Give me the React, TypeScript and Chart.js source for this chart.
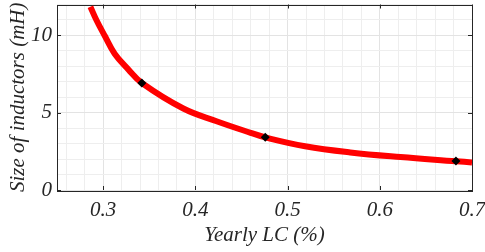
import React, { useEffect, useRef } from "react";
import { Chart, registerables } from "chart.js";

Chart.register(...registerables);

// Curve (Yearly LC %, inductor size mH)
const curveX = [0.2862, 0.2927, 0.3019, 0.3125, 0.327, 0.342, 0.387, 0.423, 0.46, 0.476, 0.519, 0.568, 0.6225, 0.683, 0.7];
const curveY = [11.86, 11.0, 9.96, 8.82, 7.82, 6.92, 5.27, 4.45, 3.7, 3.4, 2.83, 2.43, 2.13, 1.86, 1.78];

// Highlighted design points
const markX = [0.342, 0.4758, 0.6826];
const markY = [6.92, 3.42, 1.87];

const xTickLabels = ["0.3", "0.4", "0.5", "0.6", "0.7"];
const yTickLabels = ["0", "5", "10"];
const xMin = 0.25, xMax = 0.7, xMinorStep = 0.02;
const yMin = 0, yMax = 12, yMinorStep = 1;

const xTitle = "Yearly LC (%)";
const yTitle = "Size of inductors (mH)";

const TXT = "#262626";
const FONT = "'Liberation Serif', 'Times New Roman', serif";
const FS = 21;

const isMajor = (v: number, labels: string[]) => labels.some((l) => Math.abs(parseFloat(l) - v) < 1e-6);

const framePlugin = {
  id: "frame",
  beforeDatasetsDraw(chart: any) {
    const { ctx, chartArea: a, scales } = chart;
    ctx.save();
    ctx.strokeStyle = TXT;
    ctx.lineWidth = 1;
    ctx.strokeRect(Math.round(a.left) + 0.5, Math.round(a.top) + 0.5, Math.round(a.right - a.left), Math.round(a.bottom - a.top));
    const L = 4;
    ctx.beginPath();
    xTickLabels.forEach((l) => {
      const px = Math.round(scales.x.getPixelForValue(parseFloat(l))) + 0.5;
      ctx.moveTo(px, a.bottom); ctx.lineTo(px, a.bottom - L);
      ctx.moveTo(px, a.top); ctx.lineTo(px, a.top + L);
    });
    yTickLabels.forEach((l) => {
      const py = Math.round(scales.y.getPixelForValue(parseFloat(l))) + 0.5;
      ctx.moveTo(a.left, py); ctx.lineTo(a.left + L, py);
      ctx.moveTo(a.right, py); ctx.lineTo(a.right - L, py);
    });
    ctx.stroke();
    ctx.restore();
  },
};

export default function App() {
  const ref = useRef<HTMLCanvasElement>(null);
  useEffect(() => {
    document.body.style.margin = "0";
    const chart = new Chart(ref.current!, {
      type: "scatter",
      data: {
        datasets: [
          {
            data: markX.map((x, i) => ({ x, y: markY[i] })),
            pointStyle: "rectRot",
            pointRadius: 4.5,
            backgroundColor: "#000",
            borderColor: "#000",
            borderWidth: 0,
            order: 0,
          },
          {
            data: curveX.map((x, i) => ({ x, y: curveY[i] })),
            showLine: true,
            borderColor: "#ff0000",
            borderWidth: 6,
            pointRadius: 0,
            tension: 0.4,
            order: 1,
          } as any,
        ],
      },
      options: {
        responsive: false,
        animation: false,
        devicePixelRatio: 1,
        layout: { padding: { top: 1, right: 13, left: 0, bottom: 0 } },
        plugins: { legend: { display: false }, tooltip: { enabled: false } },
        scales: {
          x: {
            type: "linear",
            min: xMin,
            max: xMax,
            afterBuildTicks: (s: any) => {
              const t = [];
              for (let v = xMin + 0.01; v <= xMax + 1e-9; v += xMinorStep) t.push({ value: Math.round(v * 100) / 100 });
              s.ticks = t;
            },
            afterFit: (s: any) => { s.height = 62; s.paddingLeft = 0; s.paddingRight = 0; },
            grid: {
              drawTicks: false,
              color: (c: any) => (isMajor(c.tick?.value, xTickLabels) ? "#e3e3e3" : "#eeeeee"),
            },
            border: { display: false },
            ticks: {
              autoSkip: false,
              maxRotation: 0,
              padding: 8,
              color: TXT,
              font: { family: FONT, size: FS, style: "italic" },
              callback: (v: any) => {
                const lab = xTickLabels.find((l) => Math.abs(parseFloat(l) - v) < 1e-6);
                return lab ?? "";
              },
            },
            title: {
              display: true,
              text: xTitle,
              color: TXT,
              font: { family: FONT, size: FS, style: "italic" },
              padding: { top: 0, bottom: 4 },
            },
          },
          y: {
            type: "linear",
            min: yMin,
            max: yMax,
            afterBuildTicks: (s: any) => {
              const t = [];
              for (let v = yMin; v <= yMax + 1e-9; v += yMinorStep) t.push({ value: v });
              s.ticks = t;
            },
            afterFit: (s: any) => { s.width = 57; s.paddingTop = 0; s.paddingBottom = 0; },
            grid: {
              drawTicks: false,
              color: (c: any) => (isMajor(c.tick?.value, yTickLabels) ? "#e3e3e3" : "#eeeeee"),
            },
            border: { display: false },
            ticks: {
              autoSkip: false,
              padding: 5,
              color: TXT,
              font: { family: FONT, size: FS, style: "italic" },
              callback: (v: any) => {
                const lab = yTickLabels.find((l) => Math.abs(parseFloat(l) - v) < 1e-6);
                return lab ?? "";
              },
            },
            title: {
              display: true,
              text: yTitle,
              color: TXT,
              font: { family: FONT, size: FS, style: "italic" },
              padding: { top: 6, bottom: 0 },
            },
          },
        },
      },
      plugins: [framePlugin],
    });
    return () => chart.destroy();
  }, []);
  return <canvas ref={ref} width={485} height={252} style={{ display: "block" }} />;
}
